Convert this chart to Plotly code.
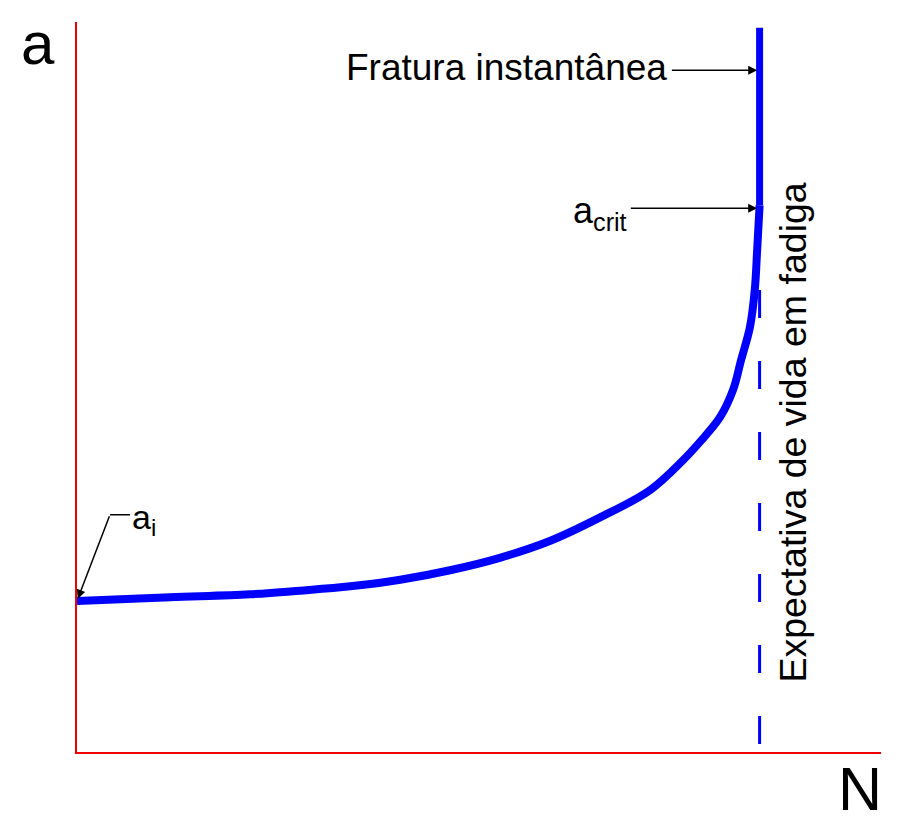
import plotly.graph_objects as go

# Crack length a vs. number of cycles N (normalised units, 0-100)
curve_N = [0.0, 11.6, 21.5, 27.7, 34.0, 40.2, 46.4, 52.6, 58.8, 65.0, 71.3, 75.4,
           77.5, 80.0, 81.6, 82.6, 83.7, 84.3, 84.6, 84.9]
curve_a = [20.7, 21.2, 21.6, 22.1, 22.7, 23.6, 24.9, 26.6, 28.9, 32.1, 35.9, 40.0,
           42.5, 45.9, 49.6, 53.7, 58.2, 63.3, 68.8, 74.9]
fracture_N = [84.9, 84.9]
fracture_a = [74.9, 99.2]
life_N = [84.9, 84.9]
life_a = [63.3, 0.0]

a_i = 20.7
a_crit = 74.5
a_frac = 93.4
N_life = 84.9

BLUE = "#0000ff"
RED = "#f00000"
FONT = "Liberation Sans, Arial, Helvetica, sans-serif"

fig = go.Figure()
fig.add_trace(go.Scatter(x=life_N, y=life_a, mode="lines",
                         line=dict(color=BLUE, width=3, dash="28px,43px"),
                         hoverinfo="skip"))
fig.add_trace(go.Scatter(x=curve_N, y=curve_a, mode="lines",
                         line=dict(color=BLUE, width=8, shape="spline", smoothing=1.0),
                         hoverinfo="skip"))
fig.add_trace(go.Scatter(x=fracture_N, y=fracture_a, mode="lines",
                         line=dict(color=BLUE, width=7),
                         hoverinfo="skip"))

# a_i leader: short horizontal segment + arrow to the start of the curve
fig.add_shape(type="line", x0=4.1, y0=32.5, x1=6.6, y1=32.5,
              xref="x", yref="y", line=dict(color="black", width=1.5))

arrow_common = dict(showarrow=True, arrowhead=2, arrowsize=1.2, arrowwidth=1.5,
                    arrowcolor="black", axref="x", ayref="y", text="",
                    xref="x", yref="y", standoff=0, startstandoff=0)
fig.add_annotation(x=0.1, y=a_i + 0.3, ax=4.1, ay=32.5, **arrow_common)
fig.add_annotation(x=N_life - 0.3, y=a_crit, ax=68.7, ay=a_crit, **arrow_common)
fig.add_annotation(x=N_life - 0.3, y=a_frac, ax=73.8, ay=a_frac, **arrow_common)

fig.add_annotation(x=73.6, y=93.7, xref="x", yref="y", text="Fratura instantânea",
                   showarrow=False, xanchor="right", yanchor="middle",
                   font=dict(family=FONT, size=37, color="black"))
fig.add_annotation(x=68.6, y=73.8, xref="x", yref="y", text="a<sub>crit</sub>",
                   showarrow=False, xanchor="right", yanchor="middle",
                   font=dict(family=FONT, size=36, color="black"))
fig.add_annotation(x=6.6, y=31.8, xref="x", yref="y", text="a<sub>i</sub>",
                   showarrow=False, xanchor="left", yanchor="middle",
                   font=dict(family=FONT, size=34, color="black"))
fig.add_annotation(x=89.1, y=43.8, xref="x", yref="y", text="Expectativa de vida em fadiga",
                   showarrow=False, textangle=-90, xanchor="center", yanchor="middle",
                   font=dict(family=FONT, size=37.5, color="black"))
fig.add_annotation(x=-0.0485, y=0.971, xref="paper", yref="paper", text="a",
                   showarrow=False, xanchor="center", yanchor="middle",
                   font=dict(family=FONT, size=60, color="black"))
fig.add_annotation(x=0.974, y=-0.050, xref="paper", yref="paper", text="N",
                   showarrow=False, xanchor="center", yanchor="middle",
                   font=dict(family=FONT, size=61, color="black"))

fig.update_xaxes(range=[0, 100], showline=True, linecolor=RED, linewidth=2,
                 showgrid=False, zeroline=False, showticklabels=False, ticks="")
fig.update_yaxes(range=[0, 100], showline=True, linecolor=RED, linewidth=2,
                 showgrid=False, zeroline=False, showticklabels=False, ticks="")
fig.update_layout(width=895, height=824, showlegend=False,
                  margin=dict(l=69, r=22, t=14, b=80),
                  plot_bgcolor="white", paper_bgcolor="white")

fig.write_html("out.html")
